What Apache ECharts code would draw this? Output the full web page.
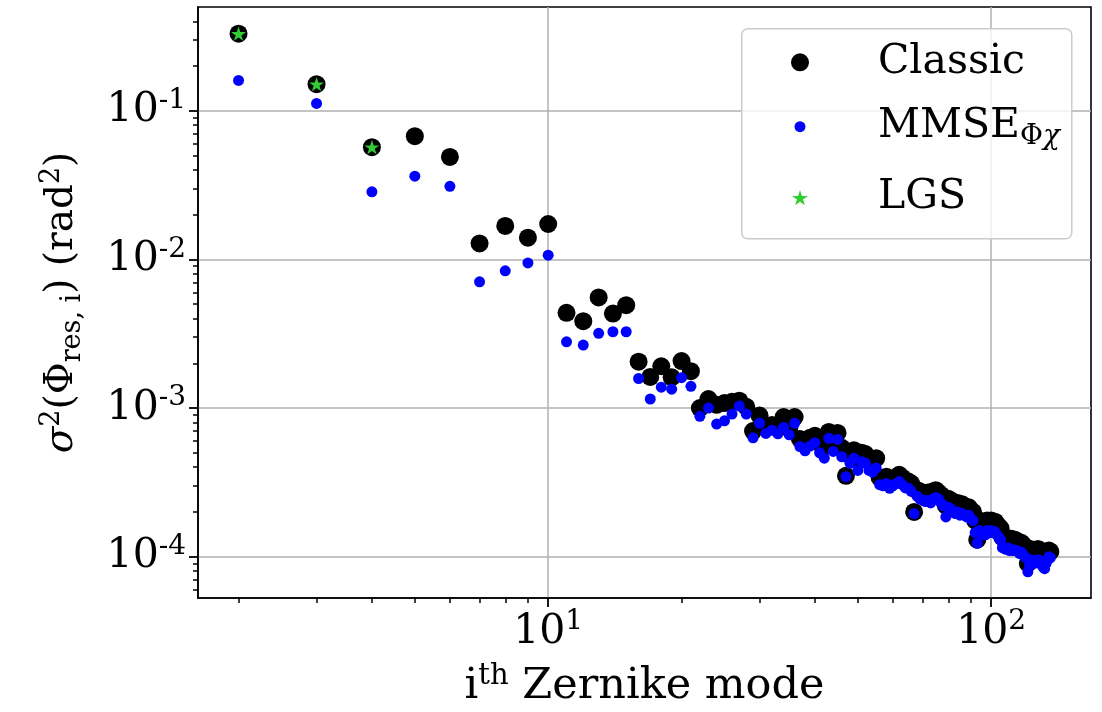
<!DOCTYPE html>
<html><head><meta charset="utf-8">
<script src="https://cdn.jsdelivr.net/npm/echarts@6/dist/echarts.min.js"></script>
<style>html,body{margin:0;padding:0;background:#fff}#c{width:1102px;height:712px}</style>
</head><body><div id="c"></div>
<script>
// Zernike mode indices (radial orders 1..15)
const modes = [
  2,3,4,5,6,7,8,9,10,11,12,13,14,15,16,17,18,19,20,21,
  22,23,24,25,26,27,28,
  29,30,31,32,33,34,35,36,
  37,38,39,40,41,42,43,44,45,
  46,47,48,49,50,51,52,53,54,55,
  56,57,58,59,60,61,62,63,64,65,66,
  67,68,69,70,71,72,73,74,75,76,77,78,
  79,80,81,82,83,84,85,86,87,88,89,90,91,
  92,93,94,95,96,97,98,99,100,101,102,103,104,105,
  106,107,108,109,110,111,112,113,114,115,116,117,118,119,120,
  121,122,123,124,125,126,127,128,129,130,131,132,133,134,135,136
];
const classic = [
  0.330,0.151,0.0569,0.0674,0.0489,0.0128,0.0168,0.0140,0.0173,0.00437,0.00384,0.00555,0.00432,0.00492,0.00205,0.00162,0.00191,0.00161,0.00207,0.00177,
  1.00e-3,1.15e-3,1.05e-3,1.08e-3,1.10e-3,1.12e-3,1.02e-3,
  7.0e-4,8.9e-4,7.5e-4,7.7e-4,7.3e-4,8.7e-4,7.3e-4,8.7e-4,
  6.2e-4,5.9e-4,6.3e-4,6.5e-4,5.8e-4,5.5e-4,6.9e-4,6.1e-4,6.8e-4,
  5.4e-4,3.5e-4,4.8e-4,5.2e-4,4.5e-4,5.0e-4,4.9e-4,4.4e-4,4.3e-4,4.6e-4,
  3.4e-4,3.3e-4,3.45e-4,3.2e-4,3.35e-4,3.4e-4,3.55e-4,3.4e-4,3.25e-4,3.2e-4,3.1e-4,
  2.0e-4,2.8e-4,2.75e-4,2.65e-4,2.6e-4,2.7e-4,2.6e-4,2.75e-4,2.8e-4,2.7e-4,2.6e-4,2.5e-4,
  2.2e-4,2.45e-4,2.4e-4,2.3e-4,2.25e-4,2.3e-4,2.2e-4,2.25e-4,2.15e-4,2.1e-4,2.15e-4,2.05e-4,2.0e-4,
  1.75e-4,1.3e-4,1.75e-4,1.7e-4,1.65e-4,1.7e-4,1.75e-4,1.7e-4,1.75e-4,1.7e-4,1.72e-4,1.65e-4,1.6e-4,1.55e-4,
  1.35e-4,1.33e-4,1.3e-4,1.33e-4,1.3e-4,1.32e-4,1.3e-4,1.3e-4,1.28e-4,1.25e-4,1.22e-4,1.24e-4,1.2e-4,1.17e-4,1.15e-4,
  9.0e-5,1.05e-4,1.12e-4,1.1e-4,1.08e-4,1.1e-4,1.12e-4,1.12e-4,1.1e-4,1.08e-4,1.05e-4,1.02e-4,1.05e-4,1.08e-4,1.1e-4,1.08e-4
];
const mmse = [
  0.160,0.112,0.0285,0.0363,0.0310,0.00706,0.00838,0.00946,0.01067,0.00279,0.00265,0.00318,0.00326,0.00326,0.00158,0.00115,0.00138,0.00134,0.00160,0.00140,
  8.8e-4,1.00e-3,7.8e-4,8.2e-4,9.1e-4,1.03e-3,9.1e-4,
  6.3e-4,7.9e-4,6.75e-4,7.1e-4,6.7e-4,7.4e-4,6.6e-4,7.9e-4,
  5.5e-4,5.15e-4,5.55e-4,5.85e-4,5.0e-4,4.6e-4,6.25e-4,5.1e-4,6.15e-4,
  4.7e-4,3.45e-4,4.25e-4,4.6e-4,3.8e-4,4.35e-4,4.25e-4,3.8e-4,3.7e-4,3.95e-4,
  3.05e-4,3.0e-4,3.1e-4,2.88e-4,3.0e-4,3.1e-4,3.2e-4,3.05e-4,2.9e-4,2.88e-4,2.75e-4,
  1.95e-4,2.55e-4,2.45e-4,2.4e-4,2.35e-4,2.4e-4,2.3e-4,2.45e-4,2.5e-4,2.45e-4,2.3e-4,2.2e-4,
  1.85e-4,2.15e-4,2.1e-4,2.0e-4,1.95e-4,2.0e-4,1.9e-4,1.95e-4,1.9e-4,1.85e-4,1.9e-4,1.8e-4,1.75e-4,
  1.45e-4,1.23e-4,1.5e-4,1.45e-4,1.4e-4,1.4e-4,1.5e-4,1.45e-4,1.5e-4,1.45e-4,1.47e-4,1.4e-4,1.35e-4,1.3e-4,
  1.15e-4,1.14e-4,1.12e-4,1.15e-4,1.1e-4,1.12e-4,1.1e-4,1.11e-4,1.1e-4,1.08e-4,1.05e-4,1.07e-4,1.03e-4,1.0e-4,9.8e-5,
  7.9e-5,8.8e-5,9.5e-5,9.2e-5,9.0e-5,9.3e-5,9.5e-5,9.5e-5,9.0e-5,8.8e-5,8.5e-5,8.3e-5,9.0e-5,9.5e-5,1.0e-4,9.8e-5
];
const lgsModes = [2, 3, 4];
const lgs = [0.330, 0.151, 0.0569];

const xMajorTicks = [10, 100];
const xMinorTicks = [2,3,4,5,6,7,8,9,20,30,40,50,60,70,80,90];
const yMajorTicks = [1e-4, 1e-3, 1e-2, 1e-1];
const yMinorTicks = [6e-5,7e-5,8e-5,9e-5,2e-4,3e-4,4e-4,5e-4,6e-4,7e-4,8e-4,9e-4,2e-3,3e-3,4e-3,5e-3,6e-3,7e-3,8e-3,9e-3,2e-2,3e-2,4e-2,5e-2,6e-2,7e-2,8e-2,9e-2,0.2,0.3,0.4];
const xRange = [1.62, 168];
const yRange = [5.27e-5, 0.499];

const FONT = 'DejaVu Serif';
const STAR = 'path://M0 -1 L0.2245 -0.309 L0.9511 -0.309 L0.3633 0.118 L0.5878 0.809 L0 0.382 L-0.5878 0.809 L-0.3633 0.118 L-0.9511 -0.309 L-0.2245 -0.309 Z';

const powLabel = v => {
  const e = Math.round(Math.log10(v));
  return '{b|10}{e|' + (e < 0 ? '-' + (-e) : e) + '}';
};
const tickRich = {
  b: {fontFamily: FONT, fontSize: 41, color: '#000', lineHeight: 48},
  e: {fontFamily: FONT, fontSize: 28, color: '#000', lineHeight: 26, verticalAlign: 'top'}
};

const chart = echarts.init(document.getElementById('c'), null, {renderer: 'canvas'});
const ICON_CX = 800, TEXT_X = 878;
const mkLegend = (name, icon, size, cy) => {
  const pl = TEXT_X - (ICON_CX + size / 2 + 5);
  return {
    data: [{name: name, icon: icon}],
    left: ICON_CX - size / 2, top: cy - 24, padding: 0,
    itemWidth: size, itemHeight: size,
    selectedMode: false, z: 20,
    textStyle: {
      fontFamily: FONT, fontSize: 41, color: '#000', lineHeight: 48,
      rich: {
        a: {fontFamily: FONT, fontSize: 41, color: '#000', lineHeight: 48, padding: [0, 0, 0, pl]},
        s: {fontFamily: FONT, fontSize: 28, color: '#000', lineHeight: 30, padding: [20, 0, 0, 0]},
        si: {fontFamily: FONT, fontSize: 28, fontStyle: 'italic', color: '#000', lineHeight: 30, padding: [20, 0, 0, 0]}
      }
    },
    formatter: n => n === 'MMSE' ? '{a|MMSE}{s|Φ}{si|χ}' : '{a|' + n + '}'
  };
};
const minorAxisLine = {show: true, onZero: false, lineStyle: {color: 'rgba(0,0,0,0)'}};

chart.setOption({
  animation: false,
  backgroundColor: '#fff',
  grid: {left: 198, right: 11, top: 7, bottom: 114, show: true, borderColor: '#000', borderWidth: 1.6, backgroundColor: 'transparent', outerBoundsMode: 'none'},
  graphic: [{
    type: 'rect', left: 741, top: 28, z: 15,
    shape: {width: 330, height: 210, r: 6},
    style: {fill: 'rgba(255,255,255,0.8)', stroke: '#cccccc', lineWidth: 1.5}
  }],
  legend: [
    mkLegend('Classic', 'circle', 18, 62.3),
    mkLegend('MMSE', 'circle', 11, 126.7),
    mkLegend('LGS', STAR, 16, 197.7)
  ],
  xAxis: [{
    type: 'log', logBase: 10, min: xRange[0], max: xRange[1],
    axisLine: {show: true, onZero: false, lineStyle: {color: '#000', width: 1.6}},
    axisTick: {show: true, inside: false, length: 9, customValues: xMajorTicks, lineStyle: {color: '#000', width: 1.8}},
    axisLabel: {customValues: xMajorTicks, margin: 10, formatter: powLabel, rich: tickRich},
    splitLine: {show: true, lineStyle: {color: '#b0b0b0', width: 1.5}},
    name: '{i|i}{sup|th}{n| Zernike mode}',
    nameLocation: 'middle', nameGap: 64,
    nameTextStyle: {
      rich: {
        i: {fontFamily: FONT, fontSize: 43, color: '#000', lineHeight: 50},
        sup: {fontFamily: FONT, fontSize: 29, color: '#000', lineHeight: 28, verticalAlign: 'top'},
        n: {fontFamily: FONT, fontSize: 43, color: '#000', lineHeight: 50}
      }
    }
  }, {
    type: 'log', logBase: 10, min: xRange[0], max: xRange[1], gridIndex: 0, position: 'bottom',
    axisLine: minorAxisLine,
    axisTick: {show: true, inside: false, length: 5, customValues: xMinorTicks, lineStyle: {color: '#000', width: 1.5}},
    axisLabel: {show: false},
    splitLine: {show: false}
  }],
  yAxis: [{
    type: 'log', logBase: 10, min: yRange[0], max: yRange[1],
    axisLine: {show: true, onZero: false, lineStyle: {color: '#000', width: 1.6}},
    axisTick: {show: true, inside: false, length: 9, customValues: yMajorTicks, lineStyle: {color: '#000', width: 1.8}},
    axisLabel: {customValues: yMajorTicks, margin: 12, formatter: powLabel, rich: tickRich},
    splitLine: {show: true, lineStyle: {color: '#b0b0b0', width: 1.5}},
    name: '{it|σ}{sup|2}{n|(Φ}{sub|res, i}{n|) (rad}{sup|2}{n|)}',
    nameLocation: 'middle', nameGap: 112, nameRotate: 90,
    nameTextStyle: {
      rich: {
        it: {fontFamily: FONT, fontSize: 39, fontStyle: 'italic', color: '#000', lineHeight: 48},
        n: {fontFamily: FONT, fontSize: 39, color: '#000', lineHeight: 48},
        sup: {fontFamily: FONT, fontSize: 27, color: '#000', lineHeight: 26, verticalAlign: 'top'},
        sub: {fontFamily: FONT, fontSize: 27, color: '#000', lineHeight: 26, padding: [22, 0, 0, 0]}
      }
    }
  }, {
    type: 'log', logBase: 10, min: yRange[0], max: yRange[1], gridIndex: 0, position: 'left',
    axisLine: minorAxisLine,
    axisTick: {show: true, inside: false, length: 5, customValues: yMinorTicks, lineStyle: {color: '#000', width: 1.5}},
    axisLabel: {show: false},
    splitLine: {show: false}
  }],
  series: [{
    name: 'Classic', type: 'scatter', xAxisIndex: 0, yAxisIndex: 0,
    symbol: 'circle', symbolSize: 18, z: 2,
    itemStyle: {color: '#000000', opacity: 1},
    data: modes.map((m, k) => [m, classic[k]])
  }, {
    name: 'MMSE', type: 'scatter', xAxisIndex: 0, yAxisIndex: 0,
    symbol: 'circle', symbolSize: 11, z: 3,
    itemStyle: {color: '#0000ff', opacity: 1},
    data: modes.map((m, k) => [m, mmse[k]])
  }, {
    name: 'LGS', type: 'scatter', xAxisIndex: 0, yAxisIndex: 0,
    symbol: STAR, symbolSize: 15, symbolKeepAspect: true, z: 4,
    itemStyle: {color: '#33cc33', opacity: 1},
    data: lgsModes.map((m, k) => [m, lgs[k]])
  }]
});
</script></body></html>
